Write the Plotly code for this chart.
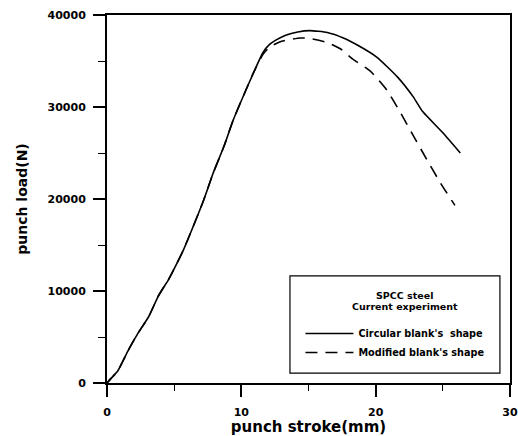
import plotly.graph_objects as go

# Data
circ_x = [0, 0.3, 0.8, 1.6, 2.3, 3.1, 3.8, 4.6, 5.1, 5.7, 6.3, 6.8, 7.2, 7.9, 8.7, 9.4, 10.15, 10.9,
          11.6, 12.1, 12.6, 13.3, 14.2, 15.1, 16.4, 17.6, 18.8, 20.1, 21.6, 22.8, 23.5, 25.0, 26.3]
circ_y = [0, 500, 1300, 3600, 5400, 7200, 9400, 11300, 12700, 14500, 16600, 18400, 19900, 22800, 25700,
          28600, 31200, 33700, 35900, 36800, 37300, 37800, 38150, 38300, 38100, 37500, 36600, 35400,
          33300, 31100, 29500, 27200, 25000]

mod_x = [0, 0.3, 0.8, 1.6, 2.3, 3.1, 3.8, 4.6, 5.1, 5.7, 6.3, 6.8, 7.2, 7.9, 8.7, 9.4, 10.15, 10.9,
         11.6, 12.1, 13.0, 14.4, 15.1, 16.4, 17.4, 18.3, 19.6, 20.8, 21.8, 22.8, 23.8, 24.8, 25.9]
mod_y = [0, 500, 1300, 3600, 5400, 7200, 9400, 11300, 12700, 14500, 16600, 18400, 19900, 22800, 25700,
         28600, 31200, 33700, 35700, 36500, 37150, 37500, 37450, 37000, 36300, 35200, 33900, 31900,
         29500, 26900, 24300, 21800, 19300]

names = ["Circular blank's  shape", "Modified blank's shape"]
legend_title = ["SPCC steel", "Current experiment"]
x_ticks = [0, 10, 20, 30]
y_ticks = [0, 10000, 20000, 30000, 40000]

fig = go.Figure()
fig.add_trace(go.Scatter(x=circ_x, y=circ_y, mode="lines", name=names[0],
                         line=dict(color="black", width=1.6, shape="spline", smoothing=0.5)))
fig.add_trace(go.Scatter(x=mod_x, y=mod_y, mode="lines", name=names[1],
                         line=dict(color="black", width=1.6, dash="12px,8px", shape="spline", smoothing=0.5)))

axfont = dict(family="DejaVu Sans", size=11, color="black", weight="bold")
fig.update_xaxes(range=[0, 30], tickvals=x_ticks, tickformat="d", ticks="outside", ticklen=12, tickwidth=1.5,
                 tickcolor="black", showline=True, linewidth=2, linecolor="black", mirror=True,
                 showgrid=False, zeroline=False, tickfont=axfont, ticklabelstandoff=6, automargin=False,
                 minor=dict(dtick=5, ticks="outside", ticklen=6, tickwidth=1.2, tickcolor="black"),
                 title=dict(text="punch stroke(mm)", standoff=2,
                            font=dict(family="DejaVu Sans", size=15, color="black", weight="bold")))
fig.update_yaxes(range=[0, 40000], tickvals=y_ticks, tickformat="d", ticks="outside", ticklen=12, tickwidth=1.5,
                 tickcolor="black", showline=True, linewidth=2, linecolor="black", mirror=True,
                 showgrid=False, zeroline=False, tickfont=axfont, ticklabelstandoff=5, automargin=False,
                 minor=dict(dtick=5000, ticks="outside", ticklen=7, tickwidth=1.2, tickcolor="black"),
                 title=dict(text="punch load(N)", standoff=17,
                            font=dict(family="DejaVu Sans", size=14, color="black", weight="bold")))

# legend frame and title lines
fig.add_shape(type="rect", xref="paper", yref="paper", x0=0.454, x1=0.975, y0=0.027, y1=0.291,
              line=dict(color="black", width=1.2), fillcolor="white", layer="below")
for i, t in enumerate(legend_title):
    fig.add_annotation(text=t, xref="paper", yref="paper", x=0.739, y=0.239 - i * 0.03,
                       showarrow=False, xanchor="center", yanchor="middle",
                       font=dict(family="DejaVu Sans", size=9.5, color="black", weight="bold"))

fig.update_layout(
    width=518, height=436,
    margin=dict(l=107, r=8, t=15, b=53),
    paper_bgcolor="white", plot_bgcolor="white",
    showlegend=True,
    legend=dict(x=0.48, y=0.174, xanchor="left", yanchor="top", bgcolor="rgba(0,0,0,0)",
                borderwidth=0, tracegroupgap=0, itemwidth=48,
                font=dict(family="DejaVu Sans", size=9.7, color="black", weight="bold")),
)

fig.write_html("out.html", config={"displayModeBar": False},
               post_script="document.body.style.margin='0';document.body.style.overflow='hidden';")
